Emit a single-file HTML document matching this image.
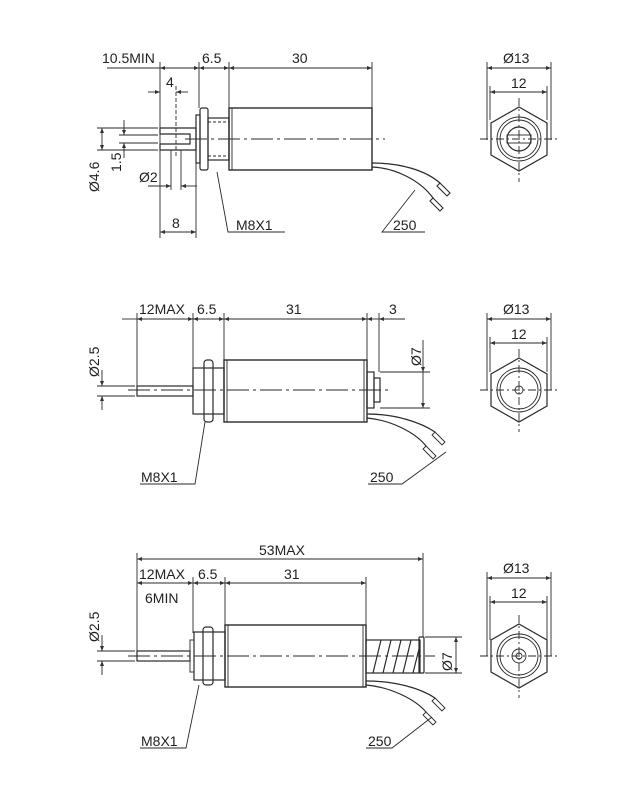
<!DOCTYPE html>
<html><head><meta charset="utf-8"><style>
html,body{margin:0;padding:0;background:#fff}
svg{display:block}
text{font-family:"Liberation Sans",sans-serif;font-size:14px;fill:#222}
</style></head><body>
<svg width="630" height="787" viewBox="0 0 630 787" xmlns="http://www.w3.org/2000/svg">
<defs>
<marker id="a" viewBox="0 0 10 10" refX="10" refY="5" markerWidth="7" markerHeight="5" orient="auto-start-reverse" markerUnits="userSpaceOnUse"><path d="M0,1L10,5L0,9z" fill="#333"/></marker>
</defs>
<g stroke="#2a2a2a" stroke-width="0.9" fill="none">
<!-- ===== Drawing 1 ===== -->
<line x1="107" y1="68" x2="160" y2="68"/>
<line x1="160" y1="68" x2="199" y2="68" marker-start="url(#a)" marker-end="url(#a)"/>
<line x1="199" y1="68" x2="229" y2="68" marker-start="url(#a)" marker-end="url(#a)"/>
<line x1="229" y1="68" x2="372" y2="68" marker-start="url(#a)" marker-end="url(#a)"/>
<line x1="160" y1="62" x2="160" y2="238"/>
<line x1="199" y1="62" x2="199" y2="108"/>
<line x1="229" y1="62" x2="229" y2="108"/>
<line x1="372" y1="62" x2="372" y2="108"/>
<line x1="148" y1="92" x2="160" y2="92" marker-end="url(#a)"/>
<line x1="188" y1="92" x2="176" y2="92" marker-end="url(#a)"/>
<line x1="176" y1="86" x2="176" y2="158" stroke-dasharray="4,2"/>
<line x1="196" y1="135" x2="196" y2="238"/>
<line x1="160" y1="232" x2="196" y2="232" marker-start="url(#a)" marker-end="url(#a)"/>
<line x1="148" y1="186" x2="171" y2="186" marker-end="url(#a)"/>
<line x1="197" y1="186" x2="181" y2="186" marker-end="url(#a)"/>
<line x1="171" y1="150" x2="171" y2="190"/><line x1="181" y1="150" x2="181" y2="190"/>
<line x1="97" y1="128" x2="158" y2="128"/><line x1="97" y1="150" x2="158" y2="150"/>
<line x1="102" y1="128" x2="102" y2="150" marker-start="url(#a)" marker-end="url(#a)"/>
<line x1="119" y1="135" x2="158" y2="135"/><line x1="119" y1="143" x2="158" y2="143"/>
<line x1="124" y1="120" x2="124" y2="135" marker-end="url(#a)"/>
<line x1="124" y1="158" x2="124" y2="143" marker-end="url(#a)"/>
<path d="M160,128H196V150H160V144H190V134H160Z" stroke-width="1.2"/>
<rect x="200" y="108" width="8" height="62" rx="2" stroke-width="1.2"/>
<rect x="196" y="115" width="4" height="48" stroke-width="1.2"/>
<rect x="208" y="118" width="21" height="42" stroke-width="1.2"/>
<line x1="208" y1="122" x2="229" y2="122" stroke-dasharray="3,2"/><line x1="208" y1="156" x2="229" y2="156" stroke-dasharray="3,2"/>
<rect x="229" y="108" width="143" height="62" stroke-width="1.4"/>
<line x1="232" y1="108" x2="232" y2="170"/>
<line x1="185" y1="139" x2="385" y2="139" stroke-dasharray="22,4,3,4"/>
<path d="M372,163C400,163 425,170 440,183M372,167C395,168 420,180 433,198" stroke-width="1.2"/>
<path d="M440,183l10,10l-3,3l-10-10zM433,198l10,10l-3,3l-10-10z" stroke-width="1.1"/>
<path d="M217,172L228,232H285" /><path d="M415,190L382,232H425"/>
<line x1="487" y1="68" x2="551" y2="68" marker-start="url(#a)" marker-end="url(#a)"/>
<line x1="490" y1="92" x2="547" y2="92" marker-start="url(#a)" marker-end="url(#a)"/>
<line x1="487" y1="62" x2="487" y2="140"/><line x1="551" y1="62" x2="551" y2="140"/>
<line x1="490" y1="86" x2="490" y2="120"/><line x1="547" y1="86" x2="547" y2="120"/>
<polygon points="519,107 547,123 547,155 519,171 491,155 491,123" stroke-width="1.2"/>
<circle cx="519" cy="139" r="22"/><circle cx="519" cy="139" r="19"/>
<circle cx="519" cy="139" r="12" stroke-width="1.2"/>
<rect x="507" y="135" width="24" height="8"/>
<line x1="480" y1="139" x2="558" y2="139" stroke-dasharray="8,3,2,3"/>
<line x1="519" y1="98" x2="519" y2="182" stroke-dasharray="8,3,2,3"/>

<!-- ===== Drawing 2 ===== -->
<line x1="122" y1="319" x2="137" y2="319"/>
<line x1="137" y1="319" x2="193" y2="319" marker-start="url(#a)" marker-end="url(#a)"/>
<line x1="193" y1="319" x2="224" y2="319" marker-start="url(#a)" marker-end="url(#a)"/>
<line x1="224" y1="319" x2="367" y2="319" marker-start="url(#a)" marker-end="url(#a)"/>
<line x1="367" y1="319" x2="379" y2="319" marker-start="url(#a)"/>
<line x1="379" y1="319" x2="405" y2="319" marker-start="url(#a)"/>
<line x1="137" y1="313" x2="137" y2="386"/><line x1="193" y1="313" x2="193" y2="368"/>
<line x1="224" y1="313" x2="224" y2="360"/><line x1="367" y1="313" x2="367" y2="360"/>
<line x1="379" y1="313" x2="379" y2="372"/>
<line x1="380" y1="372" x2="430" y2="372"/><line x1="380" y1="408" x2="430" y2="408"/>
<line x1="423" y1="340" x2="423" y2="372" marker-end="url(#a)"/>
<line x1="423" y1="408" x2="423" y2="372" marker-start="url(#a)"/>
<line x1="97" y1="386" x2="135" y2="386"/><line x1="97" y1="396" x2="135" y2="396"/>
<line x1="102" y1="370" x2="102" y2="386" marker-end="url(#a)"/>
<line x1="102" y1="410" x2="102" y2="396" marker-end="url(#a)"/>
<rect x="137" y="386" width="56" height="10" stroke-width="1.2"/>
<rect x="193" y="368" width="31" height="46" stroke-width="1.2"/>
<rect x="204" y="360" width="9" height="62" rx="3" stroke-width="1.2"/>
<rect x="224" y="360" width="143" height="62" stroke-width="1.4"/>
<line x1="227" y1="360" x2="227" y2="422"/><line x1="364" y1="360" x2="364" y2="422"/>
<rect x="367" y="372" width="7" height="36" stroke-width="1.2"/>
<rect x="374" y="378" width="6" height="24" stroke-width="1.2"/>
<line x1="128" y1="390" x2="390" y2="390" stroke-dasharray="22,4,3,4"/>
<path d="M367,414C395,414 420,422 435,432M367,418C390,420 415,432 426,446" stroke-width="1.2"/>
<path d="M435,432l10,10l-3,3l-10-10zM426,446l10,10l-3,3l-10-10z"/>
<path d="M205,422L195,484H140"/><path d="M446,452L402,484H368"/>
<line x1="487" y1="319" x2="551" y2="319" marker-start="url(#a)" marker-end="url(#a)"/>
<line x1="490" y1="343" x2="547" y2="343" marker-start="url(#a)" marker-end="url(#a)"/>
<line x1="487" y1="313" x2="487" y2="390"/><line x1="551" y1="313" x2="551" y2="390"/>
<line x1="490" y1="337" x2="490" y2="372"/><line x1="547" y1="337" x2="547" y2="372"/>
<polygon points="519,358 547,374 547,406 519,422 491,406 491,374" stroke-width="1.2"/>
<circle cx="519" cy="390" r="22"/><circle cx="519" cy="390" r="19"/>
<circle cx="519" cy="390" r="4"/>
<line x1="480" y1="390" x2="558" y2="390" stroke-dasharray="8,3,2,3"/>
<line x1="519" y1="349" x2="519" y2="432" stroke-dasharray="8,3,2,3"/>

<!-- ===== Drawing 3 ===== -->
<line x1="137" y1="559" x2="423" y2="559" marker-start="url(#a)" marker-end="url(#a)"/>
<line x1="137" y1="583" x2="193" y2="583" marker-start="url(#a)" marker-end="url(#a)"/>
<line x1="193" y1="583" x2="225" y2="583" marker-start="url(#a)" marker-end="url(#a)"/>
<line x1="225" y1="583" x2="366" y2="583" marker-start="url(#a)" marker-end="url(#a)"/>
<line x1="137" y1="553" x2="137" y2="651"/><line x1="193" y1="577" x2="193" y2="633"/>
<line x1="225" y1="577" x2="225" y2="625"/><line x1="366" y1="577" x2="366" y2="625"/>
<line x1="423" y1="553" x2="423" y2="637"/>
<line x1="425" y1="637" x2="462" y2="637"/><line x1="425" y1="673" x2="462" y2="673"/>
<line x1="456" y1="637" x2="456" y2="673" marker-start="url(#a)" marker-end="url(#a)"/>
<line x1="97" y1="651" x2="135" y2="651"/><line x1="97" y1="661" x2="135" y2="661"/>
<line x1="102" y1="635" x2="102" y2="651" marker-end="url(#a)"/>
<line x1="102" y1="675" x2="102" y2="661" marker-end="url(#a)"/>
<rect x="137" y="651" width="53" height="10" stroke-width="1.2"/>
<rect x="190" y="640" width="4" height="32"/>
<rect x="194" y="632" width="31" height="48" stroke-width="1.2"/>
<rect x="203" y="627" width="10" height="58" rx="3" stroke-width="1.2"/>
<rect x="225" y="625" width="141" height="62" stroke-width="1.4"/>
<line x1="228" y1="625" x2="228" y2="687"/><line x1="363" y1="625" x2="363" y2="687"/>
<rect x="366" y="640" width="54" height="33" stroke-width="1.2"/>
<path d="M373,673L381,640M383,673L391,640M393,673L401,640M403,673L411,640M413,673L420,645" stroke-width="1.2"/>
<rect x="419" y="637" width="5" height="36" rx="1" stroke-width="1.2"/>
<line x1="128" y1="656" x2="435" y2="656" stroke-dasharray="22,4,3,4"/>
<path d="M366,681C395,681 420,688 435,698M366,685C390,687 415,699 426,712" stroke-width="1.2"/>
<path d="M435,698l10,10l-3,3l-10-10zM426,712l10,10l-3,3l-10-10z"/>
<path d="M199,685L186,748H140"/><path d="M432,717L392,748H366"/>
<line x1="487" y1="578" x2="551" y2="578" marker-start="url(#a)" marker-end="url(#a)"/>
<line x1="490" y1="602" x2="547" y2="602" marker-start="url(#a)" marker-end="url(#a)"/>
<line x1="487" y1="572" x2="487" y2="656"/><line x1="551" y1="572" x2="551" y2="656"/>
<line x1="490" y1="596" x2="490" y2="640"/><line x1="547" y1="596" x2="547" y2="640"/>
<polygon points="519,624 547,640 547,672 519,688 491,672 491,640" stroke-width="1.2"/>
<circle cx="519" cy="656" r="22"/><circle cx="519" cy="656" r="19"/>
<circle cx="519" cy="656" r="7"/><circle cx="519" cy="656" r="3"/>
<line x1="480" y1="656" x2="558" y2="656" stroke-dasharray="8,3,2,3"/>
<line x1="519" y1="615" x2="519" y2="698" stroke-dasharray="8,3,2,3"/>
</g>
<g>
<text x="102" y="63">10.5MIN</text>
<text x="202" y="63">6.5</text>
<text x="292" y="63">30</text>
<text x="166" y="87">4</text>
<text x="172" y="228">8</text>
<text x="139" y="182">Ø2</text>
<text x="99" y="192" transform="rotate(-90 99 192)">Ø4.6</text>
<text x="121" y="172" transform="rotate(-90 121 172)">1.5</text>
<text x="236" y="230">M8X1</text>
<text x="393" y="230">250</text>
<text x="503" y="63">Ø13</text>
<text x="511" y="88">12</text>

<text x="139" y="314">12MAX</text>
<text x="197" y="314">6.5</text>
<text x="286" y="314">31</text>
<text x="389" y="314">3</text>
<text x="421" y="366" transform="rotate(-90 421 366)">Ø7</text>
<text x="99" y="377" transform="rotate(-90 99 377)">Ø2.5</text>
<text x="141" y="482">M8X1</text>
<text x="370" y="482">250</text>
<text x="503" y="314">Ø13</text>
<text x="511" y="339">12</text>

<text x="259" y="555">53MAX</text>
<text x="139" y="579">12MAX</text>
<text x="198" y="579">6.5</text>
<text x="284" y="579">31</text>
<text x="145" y="603">6MIN</text>
<text x="452" y="671" transform="rotate(-90 452 671)">Ø7</text>
<text x="99" y="642" transform="rotate(-90 99 642)">Ø2.5</text>
<text x="141" y="746">M8X1</text>
<text x="368" y="746">250</text>
<text x="503" y="573">Ø13</text>
<text x="511" y="598">12</text>
</g>
</svg>
</body></html>
